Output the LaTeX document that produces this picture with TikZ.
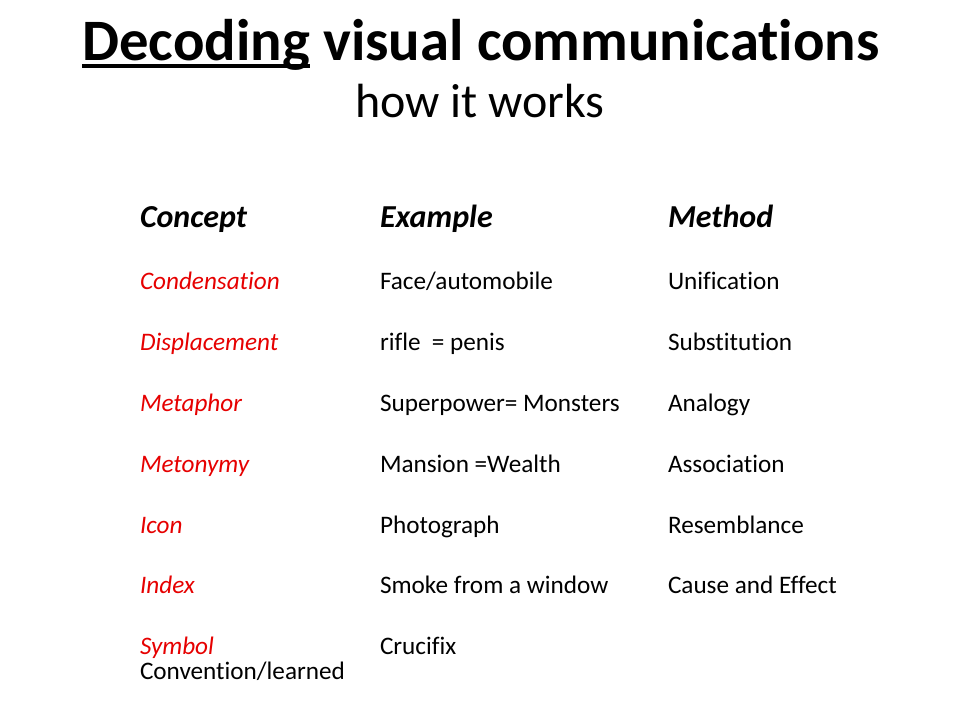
\documentclass[tikz,border=0pt]{standalone}
\usepackage{fontspec}
\setmainfont{Carlito}[Ligatures={NoCommon}]
\definecolor{conceptred}{RGB}{230,0,0}
\newcommand\titleul[1]{\setbox0\hbox{#1}\rlap{\rule[-8pt]{\wd0}{4pt}}\box0\relax}
\begin{document}
\begin{tikzpicture}[x=1pt,y=-1pt,
  every node/.style={inner sep=0pt,outer sep=0pt},
  titletext/.style={anchor=base,font=\fontsize{58.7}{68}\selectfont\bfseries},
  subtext/.style={anchor=base,font=\fontsize{48}{56}\selectfont},
  headtext/.style={anchor=base west,font=\fontsize{32}{38}\selectfont\bfseries\itshape},
  concept/.style={anchor=base west,font=\fontsize{25.2}{30}\selectfont\itshape,text=conceptred},
  cell/.style={anchor=base west,font=\fontsize{25.2}{30}\selectfont}]
\useasboundingbox[fill=white] (0,0) rectangle (960,720);
\node[titletext] (title) at (481,60) {\titleul{Decoding} visual communications};
\node[subtext] (sub) at (480,117) {how it works};
\node[headtext] (h1) at (140,227) {Concept};
\node[headtext] (h2) at (380,227) {Example};
\node[headtext] (h3) at (668,227) {Method};
\node[concept] (c1) at (140,289) {Condensation};
\node[cell] (e1) at (380,289) {Face/automobile};
\node[cell] (m1) at (668,289) {Unification};
\node[concept] (c2) at (140,350) {Displacement};
\node[cell] (e2) at (380,350) {rifle\ \ = penis};
\node[cell] (m2) at (668,350) {Substitution};
\node[concept] (c3) at (140,411) {Metaphor};
\node[cell] (e3) at (380,411) {Superpower= Monsters};
\node[cell] (m3) at (668,411) {Analogy};
\node[concept] (c4) at (140,472) {Metonymy};
\node[cell] (e4) at (380,472) {Mansion =Wealth};
\node[cell] (m4) at (668,472) {Association};
\node[concept] (c5) at (140,533) {Icon};
\node[cell] (e5) at (380,533) {Photograph};
\node[cell] (m5) at (668,533) {Resemblance};
\node[concept] (c6) at (140,593) {Index};
\node[cell] (e6) at (380,593) {Smoke from a window};
\node[cell] (m6) at (668,593) {Cause and Effect};
\node[concept] (c7) at (140,654) {Symbol};
\node[cell] (e7) at (380,654) {Crucifix};
\node[cell] (c7b) at (140,679) {Convention/learned};
\end{tikzpicture}
\end{document}
